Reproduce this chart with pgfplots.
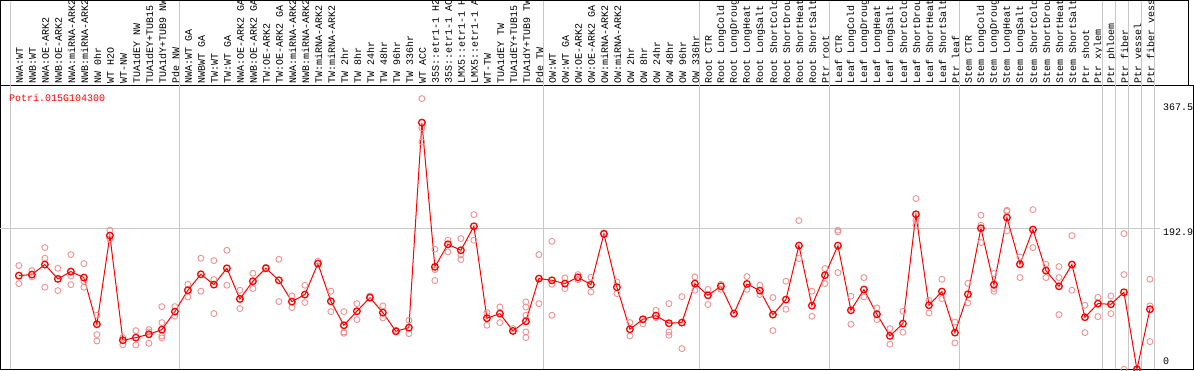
\documentclass[border=0pt]{standalone}
\usepackage{pgfplots}
\pgfplotsset{compat=1.18}
\usepackage{fontspec}
\setmainfont{Liberation Mono}
\definecolor{rep}{RGB}{236,146,146}
\definecolor{sep}{RGB}{200,200,200}
\begin{document}
\begin{tikzpicture}[x=1bp,y=1bp]
\useasboundingbox (0,0) rectangle (1194,370);
\begin{axis}[
  at={(0.5,1)}, anchor=south west,
  scale only axis, width=1193bp, height=284bp,
  xmin=-1.446, xmax=90.32, ymin=0, ymax=388.1,
  clip=false,
  axis line style={black, line width=1bp},
  xtick={0.05,1.05,...,87.05},
  xticklabels={NWA:WT,NWB:WT,NWA:OE-ARK2,NWB:OE-ARK2,NWA:miRNA-ARK2,NWB:miRNA-ARK2,NW 0hr,WT H2O,WT-NW,TUA1dEY NW,TUA1dEY+TUB15,TUA1dY+TUB9 NW,Pde NW,
  NWA:WT GA,NWBWT GA,TW:WT,TW:WT GA,NWA:OE-ARK2 GA,NWB:OE-ARK2 GA,TW:OE-ARK2,TW:OE-ARK2 GA,NWA:miRNA-ARK2,NWB:miRNA-ARK2,TW:miRNA-ARK2,TW:miRNA-ARK2,TW 2hr,TW 8hr,TW 24hr,TW 48hr,TW 96hr,TW 336hr,WT ACC,35S::etr1-1 H2,35S::etr1-1 AC,LMX5::etr1-1 H,LMX5::etr1-1 A,WT-TW,TUA1dEY TW,TUA1dEY+TUB15,TUA1dY+TUB9 TW,Pde TW,
  OW:WT,OW:WT GA,OW:OE-ARK2,OW:OE-ARK2 GA,OW:miRNA-ARK2,OW:miRNA-ARK2,OW 2hr,OW 8hr,OW 24hr,OW 48hr,OW 96hr,OW 336hr,
  Root CTR,Root LongCold,Root LongDroug,Root LongHeat,Root LongSalt,Root ShortCold,Root ShortDrou,Root ShortHeat,Root ShortSalt,Ptr root,
  Leaf CTR,Leaf LongCold,Leaf LongDroug,Leaf LongHeat,Leaf LongSalt,Leaf ShortCold,Leaf ShortDrou,Leaf ShortHeat,Leaf ShortSalt,Ptr leaf,
  Stem CTR,Stem LongCold,Stem LongDroug,Stem LongHeat,Stem LongSalt,Stem ShortCold,Stem ShortDrou,Stem ShortHeat,Stem ShortSalt,Ptr shoot,Ptr xylem,Ptr phloem,Ptr fiber,Ptr vessel,Ptr fiber vess},
  xticklabel pos=right,
  x tick label style={rotate=90, anchor=west, font=\fontsize{10bp}{12bp}\selectfont, inner sep=1.5bp},
  ytick=\empty,
  major tick length=0pt,
]
\pgfplotsinvokeforeach{-0.64,12.36,40.36,52.36,62.36,72.36,83.36,84.36,85.36,86.36,87.36}{
  \draw[sep, line width=1bp] (axis cs:#1,0) -- (axis cs:#1,504.3);
}
\draw[sep, line width=1bp] (axis cs:-1.446,192.9) -- (axis cs:87.75,192.9);

\addplot[only marks, mark=o, mark size=3bp, rep, mark options={line width=0.9bp}] table {
x y
0 141.7
0 117.1
1 134.9
1 126.2
2 166.3
2 151.7
2 112.1
3 138.0
3 107.5
4 156.7
4 127.6
4 115.7
5 144.4
5 120.3
5 112.1
6 73.8
6 47.4
6 38.7
7 190.0
7 178.1
8 43.3
8 33.3
9 52.8
9 33.3
10 54.2
10 51.0
10 35.5
11 85.6
11 63.8
11 45.6
11 42.8
12 85.6
12 72.9
13 116.2
13 98.9
14 151.7
14 106.6
15 148.5
15 122.6
15 76.1
16 162.6
16 114.8
17 108.0
17 82.9
18 131.2
18 110.3
19 139.4
20 150.3
20 92.5
21 100.2
21 84.3
22 114.8
22 91.1
23 147.6
24 106.6
24 78.8
25 78.8
25 51.0
25 49.2
26 89.7
26 67.9
27 100.2
28 86.6
28 70.2
29 53.3
30 67.0
30 48.7
31 369.9
31 329.8
31 310.7
32 164.0
32 136.2
32 121.2
33 176.3
33 160.4
34 178.6
34 156.7
34 149.9
35 211.4
35 176.3
36 77.4
36 60.1
37 85.2
37 63.8
38 55.6
39 92.0
39 85.2
39 73.8
39 51.0
39 43.3
40 156.7
40 89.7
41 174.9
41 116.2
41 73.8
42 124.8
42 110.3
43 129.4
43 122.6
44 125.7
44 105.7
45 186.3
46 119.4
46 103.4
47 63.8
47 45.6
48 62.0
49 80.6
49 70.6
50 89.7
50 51.0
50 46.5
51 99.3
51 28.2
52 126.2
52 108.0
53 109.3
53 88.4
54 116.2
54 109.3
55 75.6
56 126.7
56 109.3
57 114.8
57 102.1
58 98.0
58 52.8
59 120.3
59 82.0
60 203.2
60 151.3
61 106.6
61 72.4
62 137.6
62 117.1
63 190.0
63 187.7
63 132.1
64 99.8
64 61.5
65 125.3
65 98.9
66 83.8
66 67.9
67 55.6
67 34.2
68 79.3
68 50.6
69 233.3
69 203.6
69 196.8
70 94.3
70 77.0
71 123.0
71 96.6
72 64.7
72 36.0
73 117.5
73 90.7
74 210.5
74 196.8
74 173.1
75 130.8
75 110.3
75 106.6
76 217.3
76 215.9
76 189.1
77 153.5
77 125.3
78 218.2
78 166.3
79 143.5
79 125.3
80 140.3
80 125.3
80 74.7
81 182.7
81 108.0
82 87.5
82 50.1
83 98.4
83 72.0
84 100.2
84 76.1
85 185.4
85 129.4
85 0
86 0
87 123.0
87 86.6
87 37.8
};

\addplot[red, line width=1bp, mark=o, mark size=3.3bp, mark options={line width=1.3bp, solid}] coordinates {
(0,128.0) (1,129.4) (2,143.1) (3,123.5) (4,133.5) (5,125.3) (6,61.5) (7,182.7) (8,39.6) (9,43.3)
(10,47.8) (11,54.2) (12,78.8) (13,108.0) (14,129.8) (15,115.7) (16,138.0) (17,96.1) (18,120.3) (19,138.0)
(20,121.6) (21,92.5) (22,102.1) (23,144.4) (24,92.9) (25,60.1) (26,79.3) (27,97.9) (28,77.4) (29,51.9)
(30,56.9) (31,337.1) (32,139.9) (33,170.8) (34,162.6) (35,195.4) (36,69.7) (37,76.1) (38,52.4) (39,65.6)
(40,123.9) (41,121.6) (42,117.1) (43,125.7) (44,115.7) (45,185.0) (46,112.1) (47,54.7) (48,68.3) (49,73.3)
(50,62.9) (51,63.8) (52,117.1) (53,101.1) (54,113.4) (55,76.1) (56,116.6) (57,107.5) (58,74.7) (59,95.2)
(60,169.0) (61,87.0) (62,128.5) (63,169.0) (64,80.6) (65,108.9) (66,75.2) (67,45.6) (68,62.4) (69,211.8)
(70,87.5) (71,106.2) (72,50.1) (73,102.5) (74,192.7) (75,115.7) (76,207.3) (77,143.5) (78,190.9) (79,134.9)
(80,113.4) (81,143.1) (82,71.1) (83,89.7) (84,88.8) (85,105.2) (86,0) (87,82.0)
};
\end{axis}
\draw[black, line width=1bp] (0.5,285) -- (0.5,369.5) -- (1188,369.5) -- (1188,285);
\node[anchor=west, inner sep=0pt, text=red, font=\fontsize{10bp}{12bp}\selectfont] at (9,272.5) {Potri.015G104300};
\node[anchor=west, inner sep=0pt, font=\fontsize{10bp}{12bp}\selectfont] at (1163,262.5) {367.5};
\node[anchor=west, inner sep=0pt, font=\fontsize{10bp}{12bp}\selectfont] at (1163,137.5) {192.9};
\node[anchor=west, inner sep=0pt, font=\fontsize{10bp}{12bp}\selectfont] at (1163,8.3) {0};
\end{tikzpicture}
\end{document}
